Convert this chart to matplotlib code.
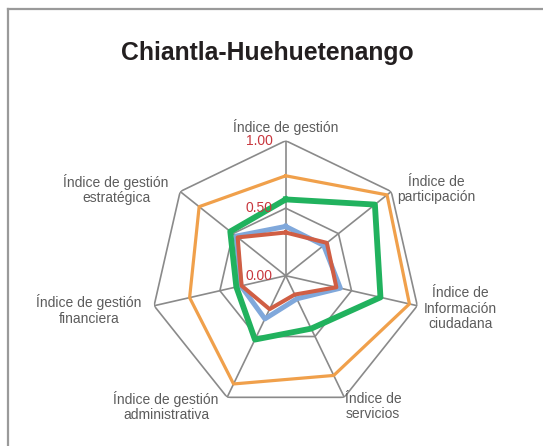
import numpy as np
import matplotlib.pyplot as plt
from matplotlib.lines import Line2D

plt.rcParams['font.family'] = ['Liberation Sans', 'DejaVu Sans']

# data
categories = ['Índice de gestión', 'Índice de\nparticipación',
              'Índice de\nInformación\nciudadana', 'Índice de\nservicios',
              'Índice de gestión\nadministrativa', 'Índice de gestión\nfinanciera',
              'Índice de gestión\nestratégica']
serie_naranja = [0.74, 0.96, 0.94, 0.82, 0.89, 0.73, 0.82]
serie_verde = [0.565, 0.845, 0.72, 0.435, 0.525, 0.375, 0.525]
serie_azul = [0.365, 0.36, 0.415, 0.19, 0.355, 0.34, 0.47]
serie_roja = [0.32, 0.39, 0.385, 0.155, 0.275, 0.335, 0.455]
ticks = [0.0, 0.5, 1.0]
tick_labels = ['0.00', '0.50', '1.00']

W, H = 543, 446
fig = plt.figure(figsize=(W / 100, H / 100), dpi=100)

# frame of the original chart box
fx, fy = 8 / W, 1 - 9 / H
fig.add_artist(Line2D([fx, fx], [0, fy], color='#9a9a9a', lw=1.6))
fig.add_artist(Line2D([fx, 1], [fy, fy], color='#9a9a9a', lw=1.6))

fig.text(267 / W, 1 - 53 / H, 'Chiantla-Huehuetenango', fontsize=17.8,
         fontweight='bold', ha='center', va='center', color='#231f20')

cx, cy, R = 285.7, 275.7, 135
ax = fig.add_axes([(cx - R) / W, (H - cy - R) / H, 2 * R / W, 2 * R / H],
                  projection='polar')
ax.set_theta_offset(np.pi / 2)
ax.set_theta_direction(-1)
ax.set_ylim(0, 1)
ax.grid(False)
ax.spines['polar'].set_visible(False)
ax.set_xticks([])
ax.set_yticks([])
ax.patch.set_alpha(0)

n = len(categories)
ang = np.linspace(0, 2 * np.pi, n, endpoint=False)
ang_c = np.append(ang, ang[0])

grid_c = '#8a8a8a'
for r in ticks[1:]:
    ax.plot(ang_c, [r] * (n + 1), color=grid_c, lw=1.2, zorder=1)
for a in ang:
    ax.plot([a, a], [0, 1], color=grid_c, lw=1.2, zorder=1)

def close(v):
    return np.append(v, v[0])

ax.plot(ang_c, close(serie_naranja), color='#f0a04b', lw=2.3, zorder=3)
ax.plot(ang_c, close(serie_azul), color='#80a8db', lw=3.6, zorder=3)
ax.plot(ang_c, close(serie_roja), color='#d05e44', lw=2.9, zorder=4)
ax.plot(ang_c, close(serie_verde), color='#21b25e', lw=4.2, zorder=5)

# radial tick labels along the top spoke
for t, lab in zip(ticks, tick_labels):
    ax.annotate(lab, xy=(0, t), xytext=(-13, 0), textcoords='offset pixels',
                ha='right', va='center', fontsize=10, color='#c8373e', zorder=6)

# category labels, offset from the outer vertex
offsets = [(0, 14), (45, 2), (43, -3), (29, -9), (-61, -9), (-65, -4), (-64, 2)]
for a, lab, off in zip(ang, categories, offsets):
    ax.annotate(lab, xy=(a, 1), xytext=off, textcoords='offset pixels',
                ha='center', va='center', fontsize=10, color='#5c5c5c',
                linespacing=1.15, annotation_clip=False)

fig.savefig('out.png', dpi=100)
